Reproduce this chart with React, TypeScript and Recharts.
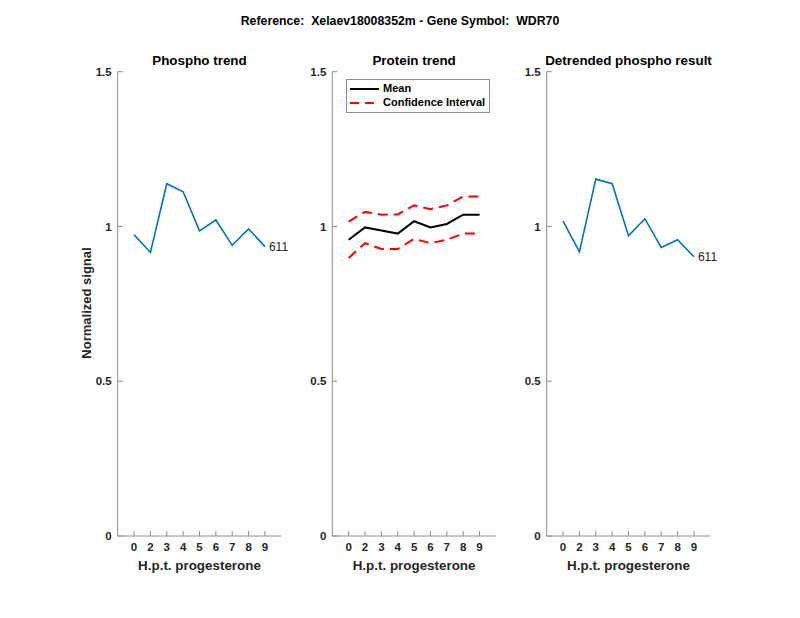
import React from 'react';
import { LineChart, Line, XAxis, YAxis, Legend, LabelList } from 'recharts';

const hours = ['0', '2', '3', '4', '5', '6', '7', '8', '9'];
const phospho = [0.973, 0.916, 1.138, 1.112, 0.986, 1.021, 0.939, 0.992, 0.935];
const proteinMean = [0.957, 0.997, 0.987, 0.977, 1.017, 0.997, 1.008, 1.038, 1.038];
const proteinUpper = [1.016, 1.047, 1.038, 1.039, 1.068, 1.056, 1.068, 1.097, 1.097];
const proteinLower = [0.898, 0.946, 0.927, 0.927, 0.96, 0.946, 0.957, 0.977, 0.977];
const detrended = [1.017, 0.918, 1.153, 1.138, 0.97, 1.025, 0.932, 0.957, 0.902];
const yTicks = [0, 0.5, 1, 1.5];
const xTicks = hours.map((_, i) => i + 1);
const peptideId = '611';

const W = 800;
const H = 618;
const FONT = '"Liberation Sans", Arial, Helvetica, sans-serif';
const AXIS = '#262626';
const PLOT_TOP = 71.7;
const PLOT_BOTTOM = 536;
const PLOT_W = 163.6;
const Y_AXIS_W = 40;
const X_AXIS_H = 30;
const panelLeft = [117.7, 332.3, 546.7];
const panelTitles = ['Phospho trend', 'Protein trend', 'Detrended phospho result'];
const DASH = '10 6';

const phosphoRows = hours.map((h, i) => ({ pos: i + 1, hour: h, value: phospho[i] }));
const proteinRows = hours.map((h, i) => ({
  pos: i + 1,
  hour: h,
  mean: proteinMean[i],
  upper: proteinUpper[i],
  lower: proteinLower[i],
}));
const detrendedRows = hours.map((h, i) => ({ pos: i + 1, hour: h, value: detrended[i] }));

const tickStyle = { fontSize: 11.5, fontWeight: 700, fill: AXIS, fontFamily: FONT };

function endLabel(props: any) {
  const { x, y, index } = props;
  if (index !== hours.length - 1) return null;
  return (
    <text x={x + 4} y={y + 1} dominantBaseline="middle" fontSize={12} fontFamily={FONT} fill={AXIS}>
      {peptideId}
    </text>
  );
}

function ProteinLegend() {
  return (
    <svg width={144} height={34} style={{ display: 'block' }}>
      <rect x={0.5} y={0.5} width={143} height={33} fill="#fff" stroke="#8c8c8c" strokeWidth={1} />
      <line x1={4} x2={33} y1={10} y2={10} stroke="#000" strokeWidth={2} />
      <text x={37} y={10} dominantBaseline="middle" fontSize={11} fontWeight={700} fontFamily={FONT} fill="#000">
        Mean
      </text>
      <line x1={4} x2={33} y1={24} y2={24} stroke="#ff0000" strokeWidth={2} strokeDasharray="9 6" />
      <text x={37} y={24} dominantBaseline="middle" fontSize={11} fontWeight={700} fontFamily={FONT} fill="#000">
        Confidence Interval
      </text>
    </svg>
  );
}

function Panel({ index, data, children, yLabel }: { index: number; data: any[]; children: React.ReactNode; yLabel?: string }) {
  const left = panelLeft[index];
  const margin = {
    top: PLOT_TOP,
    right: W - (left + PLOT_W),
    bottom: H - PLOT_BOTTOM - X_AXIS_H,
    left: left - Y_AXIS_W,
  };
  return (
    <LineChart width={W} height={H} data={data} margin={margin} style={{ position: 'absolute', left: 0, top: 0 }}>
      <XAxis
        dataKey="pos"
        type="number"
        domain={[0, 10]}
        ticks={xTicks}
        tickFormatter={(v: number) => hours[v - 1]}
        height={X_AXIS_H}
        tickSize={-5}
        tickMargin={12}
        tick={tickStyle}
        axisLine={{ stroke: '#8c8c8c' }}
        tickLine={{ stroke: '#8c8c8c' }}
        interval={0}
      />
      <YAxis
        type="number"
        domain={[0, 1.5]}
        ticks={yTicks}
        tickFormatter={(v: number) => String(v)}
        width={Y_AXIS_W}
        tickSize={-5}
        tickMargin={11}
        tick={tickStyle}
        axisLine={{ stroke: '#8c8c8c' }}
        tickLine={{ stroke: '#8c8c8c' }}
        label={
          yLabel
            ? {
                content: () => (
                  <text
                    x={88}
                    y={303}
                    transform="rotate(-90, 88, 303)"
                    textAnchor="middle"
                    dominantBaseline="middle"
                    fontSize={13}
                    fontWeight={700}
                    fontFamily={FONT}
                    fill={AXIS}
                  >
                    {yLabel}
                  </text>
                ),
              }
            : undefined
        }
      />
      {children}
    </LineChart>
  );
}

export default function App() {
  return (
    <div style={{ position: 'absolute', left: 0, top: 0, width: W, height: H, background: '#fff' }}>
      <Panel index={0} data={phosphoRows} yLabel="Normalized signal">
        <Line dataKey="value" stroke="#0072BD" strokeWidth={1.6} dot={false} isAnimationActive={false}>
          <LabelList dataKey="value" content={endLabel} />
        </Line>
      </Panel>
      <Panel index={1} data={proteinRows}>
        <Line dataKey="upper" stroke="#ff0000" strokeWidth={2} strokeDasharray={DASH} dot={false} isAnimationActive={false} />
        <Line dataKey="lower" stroke="#ff0000" strokeWidth={2} strokeDasharray={DASH} dot={false} isAnimationActive={false} />
        <Line dataKey="mean" stroke="#000" strokeWidth={2} dot={false} isAnimationActive={false} />
        <Legend
          layout="vertical"
          align="center"
          verticalAlign="middle"
          content={() => <ProteinLegend />}
          wrapperStyle={{ position: 'absolute', left: 346, top: 79, width: 144, height: 34 }}
        />
      </Panel>
      <Panel index={2} data={detrendedRows}>
        <Line dataKey="value" stroke="#0072BD" strokeWidth={1.6} dot={false} isAnimationActive={false}>
          <LabelList dataKey="value" content={endLabel} />
        </Line>
      </Panel>
      <svg width={W} height={H} style={{ position: 'absolute', left: 0, top: 0, pointerEvents: 'none' }}>
        <text
          x={400}
          y={22}
          textAnchor="middle"
          dominantBaseline="middle"
          fontSize={12.3}
          fontWeight={700}
          fontFamily={FONT}
          fill="#000"
          style={{ whiteSpace: 'pre' }}
        >
          {'Reference:  Xelaev18008352m - Gene Symbol:  WDR70'}
        </text>
        {panelTitles.map((t, i) => (
          <text
            key={t}
            x={panelLeft[i] + PLOT_W / 2}
            y={61}
            textAnchor="middle"
            dominantBaseline="middle"
            fontSize={13.4}
            fontWeight={700}
            fontFamily={FONT}
            fill="#000"
          >
            {t}
          </text>
        ))}
        {panelLeft.map((l, i) => (
          <text
            key={i}
            x={l + PLOT_W / 2}
            y={566}
            textAnchor="middle"
            dominantBaseline="middle"
            fontSize={13.4}
            fontWeight={700}
            fontFamily={FONT}
            fill={AXIS}
          >
            H.p.t. progesterone
          </text>
        ))}
      </svg>
    </div>
  );
}
